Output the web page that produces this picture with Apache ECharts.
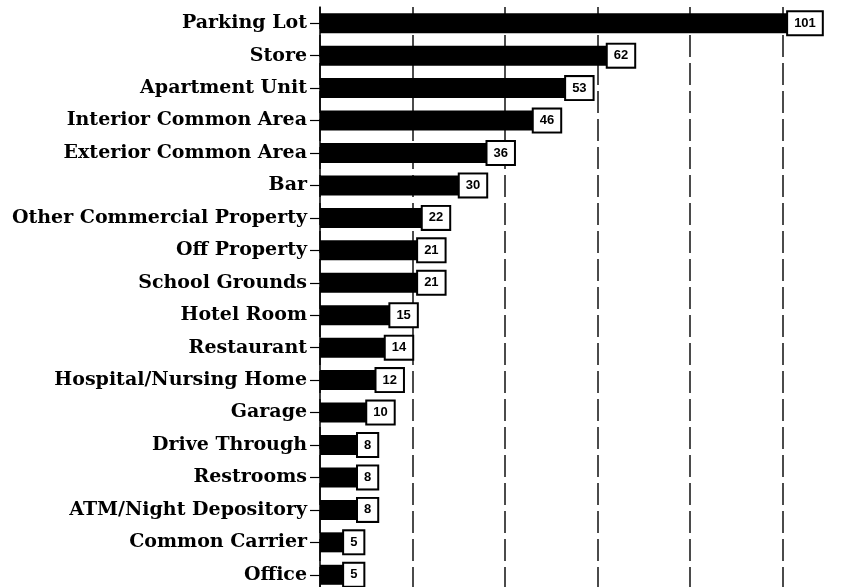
<!DOCTYPE html>
<html>
<head>
<meta charset="utf-8">
<script src="https://cdn.jsdelivr.net/npm/echarts@6/dist/echarts.min.js"></script>
<style>
html,body{margin:0;padding:0;background:#fff;}
#chart{width:865px;height:587px;}
</style>
</head>
<body>
<div id="chart"></div>
<script>
const categories = ["Parking Lot","Store","Apartment Unit","Interior Common Area","Exterior Common Area","Bar","Other Commercial Property","Off Property","School Grounds","Hotel Room","Restaurant","Hospital/Nursing Home","Garage","Drive Through","Restrooms","ATM/Night Depository","Common Carrier","Office"];
const values = [101,62,53,46,36,30,22,21,21,15,14,12,10,8,8,8,5,5];
const xTicks = [0,20,40,60,80,100,120];

const chart = echarts.init(document.getElementById('chart'), null, {renderer:'canvas'});
chart.setOption({
  animation:false,
  backgroundColor:'#ffffff',
  grid:{left:320, top:7, width:555, height:584, outerBoundsMode:'none', containLabel:false},
  xAxis:{
    type:'value', min:xTicks[0], max:xTicks[xTicks.length-1], interval:20,
    axisLabel:{show:false}, axisLine:{show:false}, axisTick:{show:false},
    splitLine:{show:true, lineStyle:{color:'#111', width:1.5, type:[22,6]}}
  },
  yAxis:{
    type:'category', data:categories, inverse:true,
    axisLine:{show:true, lineStyle:{color:'#000', width:1.5}},
    axisTick:{show:true, length:10, alignWithLabel:true, lineStyle:{color:'#000', width:1.2}},
    axisLabel:{margin:13, color:'#000', fontFamily:'DejaVu Serif', fontWeight:'bold', fontSize:19},
    splitLine:{show:false}
  },
  series:[{
    type:'bar', data:values, barWidth:20,
    itemStyle:{color:'#000'},
    label:{
      show:true, position:'right', distance:1,
      color:'#000', fontFamily:'Liberation Sans', fontWeight:'bold', fontSize:13,
      backgroundColor:'#fff', borderColor:'#000', borderWidth:2,
      padding:[5,6,4,6]
    }
  }]
});
</script>
</body>
</html>
